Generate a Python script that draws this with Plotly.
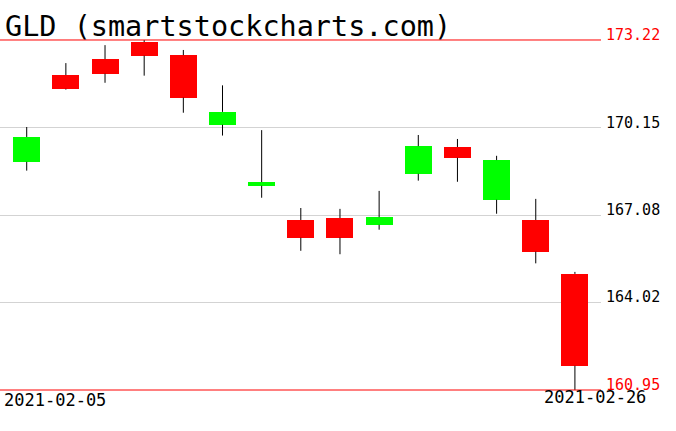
import plotly.graph_objects as go

title_text = "GLD (smartstockcharts.com)"
dates = ["2021-02-05", "2021-02-08", "2021-02-09", "2021-02-10", "2021-02-11",
         "2021-02-12", "2021-02-16", "2021-02-17", "2021-02-18", "2021-02-19",
         "2021-02-22", "2021-02-23", "2021-02-24", "2021-02-25", "2021-02-26"]
opens = [168.95, 171.99, 172.55, 173.15, 172.69, 170.25, 168.11, 166.91, 166.98, 166.74,
         168.53, 169.47, 167.62, 166.91, 165.02]
highs = [170.17, 172.41, 173.04, 173.22, 172.87, 171.63, 170.06, 167.33, 167.30, 167.93,
         169.89, 169.75, 169.16, 167.65, 165.09]
lows = [168.64, 171.48, 171.72, 171.97, 170.67, 169.87, 167.69, 165.83, 165.71, 166.57,
        168.29, 168.25, 167.13, 165.39, 160.95]
closes = [169.82, 171.51, 172.04, 172.67, 171.20, 170.70, 168.24, 166.29, 166.29, 167.01,
          169.50, 169.09, 169.01, 165.80, 161.80]
y_ticks = [173.22, 170.15, 167.08, 164.02, 160.95]

idx = list(range(len(dates)))

# wick segments (above and below body)
wx, wy = [], []
for i in idx:
    top = max(opens[i], closes[i])
    bot = min(opens[i], closes[i])
    wx += [i, i, None, i, i, None]
    wy += [top, highs[i], None, lows[i], bot, None]

colors = ["#00ff00" if closes[i] >= opens[i] else "#ff0000" for i in idx]
bases = [min(opens[i], closes[i]) for i in idx]
heights = [abs(closes[i] - opens[i]) for i in idx]

fig = go.Figure()
fig.add_trace(go.Scatter(x=wx, y=wy, mode="lines", line=dict(color="black", width=1),
                         hoverinfo="skip", showlegend=False))
fig.add_trace(go.Bar(x=idx, y=heights, base=bases, width=0.69,
                     marker=dict(color=colors, line=dict(width=0)),
                     showlegend=False))

ymax, ymin = y_ticks[0], y_ticks[-1]
for v in (ymax, ymin):
    fig.add_shape(type="line", xref="paper", x0=0, x1=1, yref="y", y0=v, y1=v,
                  line=dict(color="#ff0000", width=1))

for v in y_ticks:
    col = "#ff0000" if v in (ymax, ymin) else "black"
    fig.add_annotation(xref="paper", x=1, xanchor="left", xshift=3, yref="y", y=v,
                       yanchor="middle", yshift=5, text=f"{v:.2f}", showarrow=False,
                       font=dict(family="DejaVu Sans Mono", size=15, color=col))

fig.add_annotation(xref="paper", x=0, xanchor="left", xshift=3, yref="paper", y=1 - 27 / 431,
                   yanchor="middle", text=title_text, showarrow=False,
                   font=dict(family="DejaVu Sans Mono", size=28.5, color="black"))
fig.add_annotation(xref="paper", x=0, xanchor="left", xshift=2, yref="paper", y=1 - 400 / 431,
                   yanchor="middle", text=dates[0], showarrow=False,
                   font=dict(family="DejaVu Sans Mono", size=17, color="black"))
fig.add_annotation(xref="paper", x=1, xanchor="right", xshift=47, yref="paper", y=1 - 397 / 431,
                   yanchor="middle", text=dates[-1], showarrow=False,
                   font=dict(family="DejaVu Sans Mono", size=17, color="black"))

fig.update_layout(
    width=676, height=431,
    margin=dict(l=0, r=75, t=0, b=0),
    paper_bgcolor="white", plot_bgcolor="white",
    xaxis=dict(range=[-0.682, 14.666], showgrid=False, zeroline=False,
               showticklabels=False, showline=False, fixedrange=True),
    yaxis=dict(range=[159.513, 174.622], tickvals=y_ticks[1:-1], showgrid=True,
               gridcolor="#d3d3d3", gridwidth=1, zeroline=False,
               showticklabels=False, showline=False, fixedrange=True),
    bargap=0, showlegend=False,
)

fig.write_html("out.html", config={"displayModeBar": False},
               post_script="document.body.style.margin='0';document.body.style.overflow='hidden';")
